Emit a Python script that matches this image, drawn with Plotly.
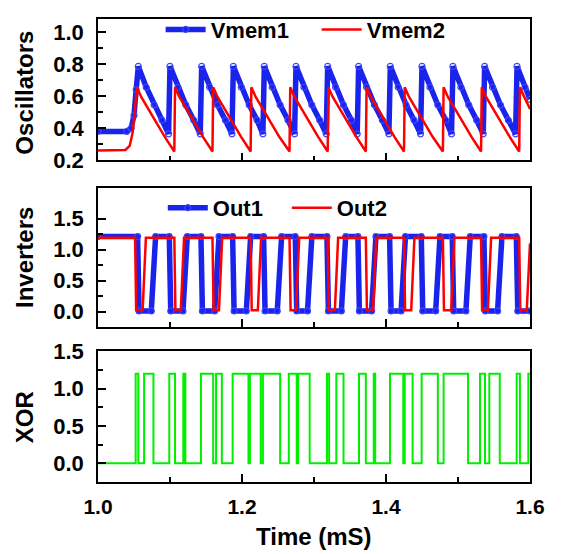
import plotly.graph_objects as go

# ---------------- data ----------------
# Top panel: membrane potentials of the two oscillators (V)
time_vmem1 = [1.000, 1.040, 1.046, 1.050, 1.053,
              1.056, 1.067, 1.078, 1.089, 1.098,
              1.100, 1.111, 1.122, 1.133, 1.142,
              1.144, 1.155, 1.166, 1.177, 1.186,
              1.188, 1.199, 1.210, 1.221, 1.229,
              1.231, 1.242, 1.253, 1.264, 1.273,
              1.275, 1.286, 1.297, 1.308, 1.317,
              1.319, 1.330, 1.341, 1.352, 1.360,
              1.362, 1.373, 1.384, 1.395, 1.404,
              1.406, 1.417, 1.428, 1.439, 1.448,
              1.450, 1.461, 1.472, 1.483, 1.491,
              1.493, 1.504, 1.515, 1.526, 1.535,
              1.537, 1.548, 1.559, 1.570, 1.580,
              1.582, 1.593, 1.600]
vmem1 = [0.38, 0.38, 0.40, 0.48, 0.64,
         0.785, 0.655, 0.545, 0.450, 0.365,
         0.785, 0.655, 0.545, 0.450, 0.365,
         0.785, 0.655, 0.545, 0.450, 0.365,
         0.785, 0.655, 0.545, 0.450, 0.365,
         0.785, 0.655, 0.545, 0.450, 0.365,
         0.785, 0.655, 0.545, 0.450, 0.365,
         0.785, 0.655, 0.545, 0.450, 0.365,
         0.785, 0.655, 0.545, 0.450, 0.365,
         0.785, 0.655, 0.545, 0.450, 0.365,
         0.785, 0.655, 0.545, 0.450, 0.365,
         0.785, 0.655, 0.545, 0.450, 0.365,
         0.785, 0.655, 0.545, 0.450, 0.365,
         0.785, 0.655, 0.580]

time_vmem2 = [1.000, 1.038, 1.044, 1.048, 1.051,
              1.054, 1.060, 1.067, 1.080, 1.093, 1.106,
              1.107, 1.113, 1.120, 1.133, 1.146, 1.159,
              1.160, 1.166, 1.173, 1.186, 1.199, 1.212,
              1.213, 1.219, 1.226, 1.239, 1.252, 1.266,
              1.267, 1.273, 1.280, 1.293, 1.306, 1.319,
              1.320, 1.326, 1.333, 1.346, 1.359, 1.372,
              1.373, 1.379, 1.386, 1.399, 1.412, 1.425,
              1.426, 1.432, 1.439, 1.452, 1.465, 1.479,
              1.480, 1.486, 1.493, 1.506, 1.519, 1.532,
              1.533, 1.539, 1.546, 1.559, 1.572, 1.585,
              1.586, 1.592, 1.600]
vmem2 = [0.262, 0.265, 0.29, 0.37, 0.50,
         0.655, 0.595, 0.540, 0.440, 0.345, 0.255,
         0.655, 0.595, 0.540, 0.440, 0.345, 0.255,
         0.655, 0.595, 0.540, 0.440, 0.345, 0.255,
         0.655, 0.595, 0.540, 0.440, 0.345, 0.255,
         0.655, 0.595, 0.540, 0.440, 0.345, 0.255,
         0.655, 0.595, 0.540, 0.440, 0.345, 0.255,
         0.655, 0.595, 0.540, 0.440, 0.345, 0.255,
         0.655, 0.595, 0.540, 0.440, 0.345, 0.255,
         0.655, 0.595, 0.540, 0.440, 0.345, 0.255,
         0.655, 0.595, 0.540, 0.440, 0.345, 0.255,
         0.655, 0.595, 0.520]

# Middle panel: inverter outputs (V)
time_out1 = [1.000, 1.055, 1.057, 1.074, 1.080,
             1.099, 1.101, 1.118, 1.124,
             1.143, 1.145, 1.162, 1.168,
             1.187, 1.189, 1.206, 1.212,
             1.230, 1.232, 1.249, 1.255,
             1.274, 1.276, 1.291, 1.297,
             1.318, 1.320, 1.338, 1.344,
             1.361, 1.363, 1.380, 1.386,
             1.405, 1.407, 1.421, 1.427,
             1.449, 1.451, 1.469, 1.475,
             1.492, 1.494, 1.511, 1.517,
             1.536, 1.538, 1.555, 1.561,
             1.581, 1.583, 1.600]
out1 = [1.21, 1.21, 0.01, 0.01, 1.21,
        1.21, 0.01, 0.01, 1.21,
        1.21, 0.01, 0.01, 1.21,
        1.21, 0.01, 0.01, 1.21,
        1.21, 0.01, 0.01, 1.21,
        1.21, 0.01, 0.01, 1.21,
        1.21, 0.01, 0.01, 1.21,
        1.21, 0.01, 0.01, 1.21,
        1.21, 0.01, 0.01, 1.21,
        1.21, 0.01, 0.01, 1.21,
        1.21, 0.01, 0.01, 1.21,
        1.21, 0.01, 0.01, 1.21,
        1.21, 0.01, 0.01]

time_out2 = [1.000, 1.0515, 1.0530, 1.0620, 1.0665,
             1.1060, 1.1075, 1.1150, 1.1195,
             1.1590, 1.1605, 1.1680, 1.1725,
             1.2120, 1.2135, 1.2220, 1.2265,
             1.2660, 1.2675, 1.2750, 1.2795,
             1.3190, 1.3205, 1.3290, 1.3335,
             1.3720, 1.3735, 1.3820, 1.3865,
             1.4250, 1.4265, 1.4350, 1.4395,
             1.4790, 1.4805, 1.4905, 1.4950,
             1.5320, 1.5335, 1.5415, 1.5460,
             1.5850, 1.5865, 1.5955, 1.6000]
out2 = [1.19, 1.19, 0.02, 0.02, 1.19,
        1.19, 0.02, 0.02, 1.19,
        1.19, 0.02, 0.02, 1.19,
        1.19, 0.02, 0.02, 1.19,
        1.19, 0.02, 0.02, 1.19,
        1.19, 0.02, 0.02, 1.19,
        1.19, 0.02, 0.02, 1.19,
        1.19, 0.02, 0.02, 1.19,
        1.19, 0.02, 0.02, 1.19,
        1.19, 0.02, 0.02, 1.19,
        1.19, 0.02, 0.02, 1.10]

# Bottom panel: XOR output, value held until the next time (step)
time_xor = [1.0000, 1.0523, 1.0560, 1.0640, 1.0770, 1.0990, 1.1070, 1.1185,
            1.1213, 1.1430, 1.1600, 1.1640, 1.1720, 1.1870, 1.2090, 1.2110,
            1.2260, 1.2290, 1.2530, 1.2650, 1.2760, 1.2780, 1.2940, 1.3180,
            1.3210, 1.3310, 1.3410, 1.3625, 1.3720, 1.3830, 1.3850, 1.4056,
            1.4240, 1.4260, 1.4370, 1.4495, 1.4720, 1.4800, 1.5140, 1.5306,
            1.5375, 1.5435, 1.5580, 1.5815, 1.5860, 1.5977, 1.6000]
xor = [0.0, 1.2, 0.0, 1.2, 0.0, 1.2, 0.0, 1.2,
       0.0, 1.2, 0.0, 1.2, 0.0, 1.2, 0.0, 1.2,
       0.0, 1.2, 0.0, 1.2, 0.0, 1.2, 0.0, 1.2,
       0.0, 1.2, 0.0, 1.2, 0.0, 1.2, 0.0, 1.2,
       0.0, 1.2, 0.0, 1.2, 0.0, 1.2, 0.0, 1.2,
       0.0, 1.2, 0.0, 1.2, 0.0, 1.2, 1.2]

# ---------------- styling ----------------
BLUE = "rgb(25,35,235)"
RED = "#ff0000"
GREEN = "#00ee00"
FONT = "Liberation Sans, Arial, Helvetica, sans-serif"

blue_marker = dict(symbol="circle-open", size=6, color="rgb(60,70,255)", line=dict(width=1.2))

fig = go.Figure()
fig.add_trace(go.Scatter(x=time_vmem1, y=vmem1, name="Vmem1", mode="lines+markers",
                         line=dict(color=BLUE, width=5.5), marker=blue_marker,
                         xaxis="x", yaxis="y", legend="legend"))
fig.add_trace(go.Scatter(x=time_vmem2, y=vmem2, name="Vmem2", mode="lines",
                         line=dict(color=RED, width=2.5),
                         xaxis="x", yaxis="y", legend="legend"))
fig.add_trace(go.Scatter(x=time_out1, y=out1, name="Out1", mode="lines+markers",
                         line=dict(color=BLUE, width=5.5), marker=blue_marker,
                         xaxis="x2", yaxis="y2", legend="legend2"))
fig.add_trace(go.Scatter(x=time_out2, y=out2, name="Out2", mode="lines",
                         line=dict(color=RED, width=2.5),
                         xaxis="x2", yaxis="y2", legend="legend2"))
fig.add_trace(go.Scatter(x=time_xor, y=xor, name="XOR", mode="lines",
                         line=dict(color=GREEN, width=2, shape="hv"),
                         xaxis="x3", yaxis="y3", showlegend=False))

common_axis = dict(showline=True, mirror=True, linecolor="black", linewidth=1.6,
                   ticks="inside", ticklen=8, tickwidth=1.6, tickcolor="black",
                   showgrid=False, zeroline=False)

def xaxis(anchor, show_labels):
    return dict(common_axis, range=[1.0, 1.6], anchor=anchor, domain=[0, 1],
                tickmode="array", tickvals=[1.0, 1.2, 1.4, 1.6],
                ticktext=["1.0", "1.2", "1.4", "1.6"], showticklabels=show_labels,
                tickfont=dict(family=FONT, size=21, color="black", weight="bold"),
                minor=dict(tickmode="array", tickvals=[1.1, 1.3, 1.5], ticks="inside",
                           ticklen=5, tickwidth=1.6, tickcolor="black"),
                ticklabelstandoff=5)

def yaxis(anchor, domain, rng, major, minor_vals):
    return dict(common_axis, range=rng, anchor=anchor, domain=domain,
                tickmode="array", tickvals=major, ticktext=["%.1f" % v for v in major],
                tickfont=dict(family=FONT, size=22, color="black", weight="bold"),
                minor=dict(tickmode="array", tickvals=minor_vals, ticks="inside",
                           ticklen=5, tickwidth=1.6, tickcolor="black"),
                ticklabelstandoff=8)

legend_font = dict(family=FONT, size=22, weight="bold")

fig.update_layout(
    width=561, height=554,
    margin=dict(l=98, r=31, t=7, b=72),
    paper_bgcolor="white", plot_bgcolor="white",
    font=dict(family=FONT, color="black"),
    xaxis=xaxis("y", False),
    xaxis2=xaxis("y2", False),
    xaxis3=xaxis("y3", True),
    yaxis=yaxis("x", [0.6947, 1.0], [0.2, 1.08], [0.2, 0.4, 0.6, 0.8, 1.0],
                [0.3, 0.5, 0.7, 0.9]),
    yaxis2=yaxis("x2", [0.3347, 0.6358], [-0.25, 2.0], [0.0, 0.5, 1.0, 1.5],
                 [0.25, 0.75, 1.25]),
    yaxis3=yaxis("x3", [0.0, 0.2821], [-0.25, 1.5], [0.0, 0.5, 1.0, 1.5],
                 [0.25, 0.75, 1.25]),
    legend=dict(orientation="h", x=0.145, y=0.977, xanchor="left", yanchor="middle",
                bgcolor="rgba(0,0,0,0)", font=legend_font,
                entrywidth=101, itemwidth=40),
    legend2=dict(orientation="h", x=0.15, y=0.592, xanchor="left", yanchor="middle",
                 bgcolor="rgba(0,0,0,0)", font=legend_font,
                 entrywidth=69, itemwidth=40),
    annotations=[
        dict(text="Oscillators", x=-0.17, y=0.84, xref="paper", yref="paper",
             textangle=-90, showarrow=False, xanchor="center", yanchor="middle",
             font=dict(family=FONT, size=24, weight="bold")),
        dict(text="Inverters", x=-0.17, y=0.485, xref="paper", yref="paper",
             textangle=-90, showarrow=False, xanchor="center", yanchor="middle",
             font=dict(family=FONT, size=24, weight="bold")),
        dict(text="XOR", x=-0.17, y=0.139, xref="paper", yref="paper",
             textangle=-90, showarrow=False, xanchor="center", yanchor="middle",
             font=dict(family=FONT, size=24, weight="bold")),
        dict(text="Time (mS)", x=0.5, y=-0.118, xref="paper", yref="paper",
             showarrow=False, xanchor="center", yanchor="middle",
             font=dict(family=FONT, size=24, weight="bold")),
    ],
)

fig.write_html("out.html")
